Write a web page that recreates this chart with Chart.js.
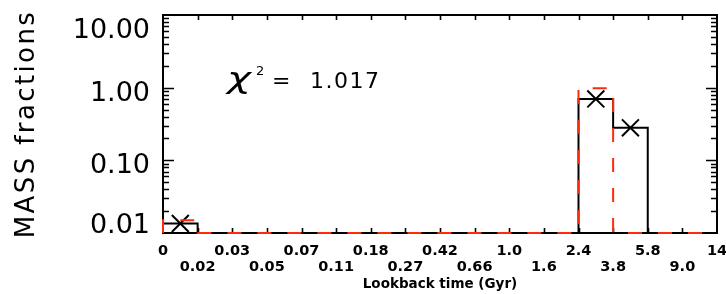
<!DOCTYPE html>
<html>
<head>
<meta charset="utf-8">
<script src="https://cdn.jsdelivr.net/npm/chart.js@4"></script>
<style>
	html, body { margin: 0; padding: 0; background: #fff; }
</style>
</head>
<body>
<canvas id="sfh-canvas" width="726" height="294"></canvas>
<script>
// bin edges of the lookback time axis (Gyr)
const binEdges = ['0', '0.02', '0.03', '0.05', '0.07', '0.11', '0.18', '0.27', '0.42', '0.66', '1.0', '1.6', '2.4', '3.8', '5.8', '9.0', '14'];
// recovered mass fractions per bin (black, with crosses)
const recovered = [0.0135, 0, 0, 0, 0, 0, 0, 0, 0, 0, 0, 0, 0.70, 0.28, 0, 0];
// input model mass fractions per bin (red dashed)
const model = [0.015, 0, 0, 0, 0, 0, 0, 0, 0, 0, 0, 0, 0.98, 0, 0, 0];
const yTicks = [0.01, 0.1, 1, 10];
const yTickLabels = ['0.01', '0.10', '1.00', '10.00'];
const chiSquared = '1.017';

const Y_MIN = 0.01, Y_MAX = 10;
const RED = '#ff2a0a';

// step outline starting from the baseline at the first edge
const steps = values => {
	const pts = [{x: 0, y: Y_MIN}];
	values.forEach((v, i) => pts.push({x: i, y: Math.max(v, Y_MIN)}));
	pts.push({x: values.length, y: Math.max(values[values.length - 1], Y_MIN)});
	return pts;
};

const crosses = recovered
	.map((v, i) => ({x: i + 0.5, y: v}))
	.filter(p => p.y > 0);

const framePlugin = {
	id: 'frame',
	beforeDatasetsDraw: chart => {
		const {ctx, chartArea: a, scales: {x, y}} = chart;
		ctx.save();
		ctx.strokeStyle = '#000';
		ctx.lineWidth = 2;
		ctx.strokeRect(a.left, a.top, a.right - a.left, a.bottom - a.top);
		ctx.lineWidth = 1.6;
		ctx.beginPath();
		for (let i = 1; i < binEdges.length - 1; i++) {
			const px = Math.round(x.getPixelForValue(i)) + 0.5;
			ctx.moveTo(px, a.bottom); ctx.lineTo(px, a.bottom - 5);
			ctx.moveTo(px, a.top); ctx.lineTo(px, a.top + 5);
		}
		for (let d = 0.01; d < 10; d *= 10) {
			for (let m = 1; m < 10; m++) {
				const val = d * m;
				if (val <= Y_MIN) continue;
				const py = Math.round(y.getPixelForValue(val)) + 0.5;
				const len = m === 1 ? 11 : 6;
				ctx.moveTo(a.left, py); ctx.lineTo(a.left + len, py);
				ctx.moveTo(a.right, py); ctx.lineTo(a.right - len, py);
			}
		}
		ctx.stroke();
		ctx.restore();
	},
	afterDraw: chart => {
		const {ctx, chartArea: a, scales: {y}} = chart;
		ctx.save();
		ctx.fillStyle = '#000';
		// y tick labels, the end ones pulled inside the frame
		ctx.font = '27px "DejaVu Sans"';
		ctx.textAlign = 'right';
		ctx.textBaseline = 'alphabetic';
		yTicks.forEach((t, i) => {
			let py = y.getPixelForValue(t) + 13;
			py = Math.min(Math.max(py, a.top + 23), a.bottom);
			ctx.fillText(yTickLabels[i], 150, py);
		});
		// y title
		ctx.save();
		ctx.translate(34, (a.top + a.bottom) / 2);
		ctx.rotate(-Math.PI / 2);
		ctx.font = '26px "DejaVu Sans"';
		ctx.letterSpacing = '2.4px';
		ctx.textAlign = 'center';
		ctx.fillText('MASS fractions', 0, 0);
		ctx.restore();
		// chi squared annotation
		ctx.textAlign = 'left';
		ctx.save();
		ctx.translate(227, 88);
		ctx.scale(1.4, 1);
		ctx.font = 'italic 29px "DejaVu Sans"';
		ctx.fillText('\u03c7', 0, 0);
		ctx.restore();
		ctx.font = '13px "DejaVu Sans"';
		ctx.fillText('2', 256, 75);
		ctx.font = '22px "DejaVu Sans"';
		ctx.letterSpacing = '1.5px';
		ctx.fillText('=', 272, 88);
		ctx.fillText(chiSquared, 310, 88);
		ctx.restore();
	}
};

const config = {
	type: 'line',
	data: {
		datasets: [{
			label: 'model',
			data: steps(model),
			stepped: 'before',
			borderColor: RED,
			borderWidth: 2,
			borderDash: [14, 16],
			pointRadius: 0,
			clip: false,
			order: 0
		}, {
			label: 'crosses',
			data: crosses,
			showLine: false,
			pointStyle: 'crossRot',
			pointRadius: 12,
			pointBorderWidth: 2,
			pointBorderColor: '#000',
			borderColor: '#000',
			order: 1
		}, {
			label: 'recovered',
			data: steps(recovered),
			stepped: 'before',
			borderColor: '#000',
			borderWidth: 2,
			pointRadius: 0,
			clip: false,
			order: 2
		}]
	},
	plugins: [framePlugin],
	options: {
		responsive: false,
		animation: false,
		events: [],
		layout: {
			autoPadding: false,
			padding: {left: 0, right: 9, top: 15, bottom: 0}
		},
		plugins: {
			legend: {display: false},
			tooltip: {enabled: false}
		},
		scales: {
			x: {
				type: 'linear',
				min: 0,
				max: binEdges.length - 1,
				grid: {display: false, drawTicks: false},
				border: {display: false},
				afterBuildTicks: scale => {
					scale.ticks = binEdges.map((_, i) => ({value: i}));
				},
				afterFit: scale => {
					scale.height = 61;
					scale.paddingLeft = 0;
					scale.paddingRight = 0;
				},
				ticks: {
					autoSkip: false,
					maxRotation: 0,
					padding: 11,
					color: '#000',
					font: {family: 'DejaVu Sans', size: 14.5, weight: 'bold', lineHeight: 1.05},
					callback: value => value % 2 ? ['', binEdges[value]] : binEdges[value]
				},
				title: {
					display: true,
					text: 'Lookback time (Gyr)',
					color: '#000',
					padding: {top: 0, bottom: 1},
					font: {family: 'DejaVu Sans', size: 13.5, weight: 'bold'}
				}
			},
			y: {
				type: 'logarithmic',
				min: Y_MIN,
				max: Y_MAX,
				grid: {display: false, drawTicks: false},
				border: {display: false},
				afterBuildTicks: scale => {
					scale.ticks = yTicks.map(v => ({value: v}));
				},
				afterFit: scale => { scale.width = 163; },
				ticks: {display: false}
			}
		}
	}
};

new Chart(document.getElementById('sfh-canvas'), config);
</script>
</body>
</html>
